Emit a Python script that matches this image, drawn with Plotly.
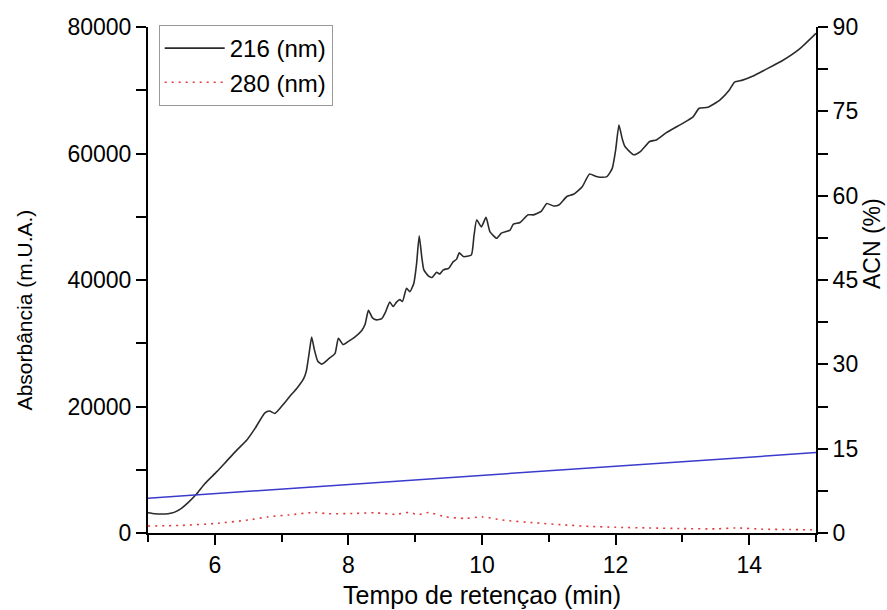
import plotly.graph_objects as go

# 216 nm trace
t216 = [5.00, 5.10, 5.20, 5.30, 5.40, 5.50, 5.60, 5.73, 5.85, 6.03, 6.18, 6.33, 6.48, 6.60, 6.75, 6.82,
        6.90, 7.03, 7.13, 7.23, 7.33, 7.37, 7.42, 7.45, 7.49, 7.54, 7.60, 7.70, 7.80, 7.85, 7.92, 8.00,
        8.10, 8.20, 8.25, 8.30, 8.36, 8.42, 8.50, 8.55, 8.62, 8.67, 8.72, 8.77, 8.81, 8.87, 8.92, 8.98,
        9.02, 9.06, 9.10, 9.13, 9.20, 9.25, 9.32, 9.37, 9.42, 9.50, 9.57, 9.62, 9.66, 9.72, 9.84, 9.88,
        9.92, 9.99, 10.06, 10.12, 10.22, 10.29, 10.42, 10.47, 10.57, 10.69, 10.77, 10.89, 10.97, 11.07,
        11.15, 11.27, 11.37, 11.50, 11.61, 11.70, 11.77, 11.87, 11.95, 12.00, 12.05, 12.10, 12.14, 12.27,
        12.37, 12.51, 12.61, 12.76, 13.01, 13.16, 13.25, 13.38, 13.56, 13.70, 13.78, 13.90, 14.05, 14.25,
        14.50, 14.75, 15.00]
a216 = [3200, 3050, 3000, 3050, 3300, 3900, 4800, 6200, 7800, 9700, 11400, 13100, 14700, 16500, 19000, 19300,
        18900, 20400, 21700, 22900, 24400, 25600, 29000, 31000, 29000, 27200, 26700, 27500, 28400, 30800, 29800, 30300,
        31000, 32000, 33000, 35200, 34000, 33700, 33900, 34800, 36500, 35800, 36500, 36900, 36600, 38700, 38150, 39500,
        42500, 47000, 43500, 41600, 40600, 40400, 41200, 40950, 41600, 41850, 42900, 43300, 44300, 43700, 43950, 47000,
        49500, 48400, 49900, 47600, 46600, 47400, 47900, 48850, 49100, 50300, 50300, 50900, 52100, 51700,
        51850, 53200, 53550, 54750, 56750, 56400, 56250, 56350, 57650, 60500, 64500, 62300, 61100, 59800,
        60300, 61900, 62150, 63300, 64800, 65800, 67150, 67300, 68450, 70000, 71300, 71600, 72200, 73300,
        74700, 76500, 79000]

# 280 nm trace
t280 = [5.0, 5.5, 6.0, 6.5, 6.8, 7.1, 7.5, 7.7, 8.1, 8.4, 8.7, 8.9, 9.05, 9.2, 9.45, 9.75, 10.0, 10.3,
        10.8, 11.2, 11.6, 12.0, 12.5, 13.0, 13.5, 13.8, 14.2, 14.6, 15.0]
a280 = [1100, 1200, 1500, 2050, 2550, 2850, 3250, 3050, 3100, 3200, 2950, 3250, 2900, 3250, 2550, 2300, 2550, 2050,
        1600, 1300, 1050, 900, 800, 700, 650, 800, 600, 550, 500]

# ACN gradient
t_acn = [5, 15]
acn = [6.2, 14.3]

x_ticks = [6, 8, 10, 12, 14]
y_ticks = [0, 20000, 40000, 60000, 80000]
y2_ticks = [0, 15, 30, 45, 60, 75, 90]

FONT = "Liberation Sans, Arial, sans-serif"
FS = 23

fig = go.Figure()
fig.add_trace(go.Scatter(x=t216, y=a216, mode="lines", name="216 (nm)",
                         line=dict(color="#2b2b2b", width=1.6, shape="spline", smoothing=0.5)))
fig.add_trace(go.Scatter(x=t280, y=a280, mode="lines", name="280 (nm)",
                         line=dict(color="#e03c3c", width=1.6, dash="2px,5px", shape="spline", smoothing=0.6)))
fig.add_trace(go.Scatter(x=t_acn, y=acn, mode="lines", name="ACN", showlegend=False, yaxis="y2",
                         line=dict(color="#3a3acd", width=1.5)))

axis_common = dict(showgrid=False, zeroline=False, showline=True, linecolor="black", linewidth=2,
                   ticks="outside", tickcolor="black", tickwidth=2, ticklen=10, automargin=False,
                   tickfont=dict(family=FONT, size=FS, color="black"))

fig.update_layout(
    width=887, height=610,
    margin=dict(l=148, r=71, t=27, b=77, autoexpand=False),
    plot_bgcolor="white", paper_bgcolor="white",
    font=dict(family=FONT, size=FS, color="black"),
    xaxis=dict(range=[5, 15], tickvals=x_ticks, ticktext=[str(v) for v in x_ticks],
               minor=dict(dtick=1, ticks="outside", ticklen=7, tickwidth=2, tickcolor="black"),
               title=dict(text="Tempo de retençao (min)", font=dict(family=FONT, size=25), standoff=10),
               **axis_common),
    yaxis=dict(range=[0, 80000], tickvals=y_ticks, ticktext=[str(v) for v in y_ticks],
               minor=dict(dtick=10000, ticks="outside", ticklen=10, tickwidth=2, tickcolor="black"),
               **axis_common),
    yaxis2=dict(range=[0, 90], overlaying="y", side="right", tickvals=y2_ticks,
                ticktext=[str(v) for v in y2_ticks],
                minor=dict(dtick=7.5, ticks="outside", ticklen=10, tickwidth=2, tickcolor="black"),
                **axis_common),
    legend=dict(x=0.016, y=1.004, xanchor="left", yanchor="top", bgcolor="white",
                bordercolor="#999999", borderwidth=1, font=dict(family=FONT, size=24),
                tracegroupgap=0, itemwidth=60),
    annotations=[
        dict(text="Absorbância (m.U.A.)", xref="paper", yref="paper", x=-0.1856, y=0.44,
             xanchor="center", yanchor="middle", textangle=-90, showarrow=False,
             font=dict(family=FONT, size=21, color="black")),
        dict(text="ACN (%)", xref="paper", yref="paper", x=1.0838, y=0.573,
             xanchor="center", yanchor="middle", textangle=-90, showarrow=False,
             font=dict(family=FONT, size=23, color="black")),
    ],
)

fig.write_html("out.html")
